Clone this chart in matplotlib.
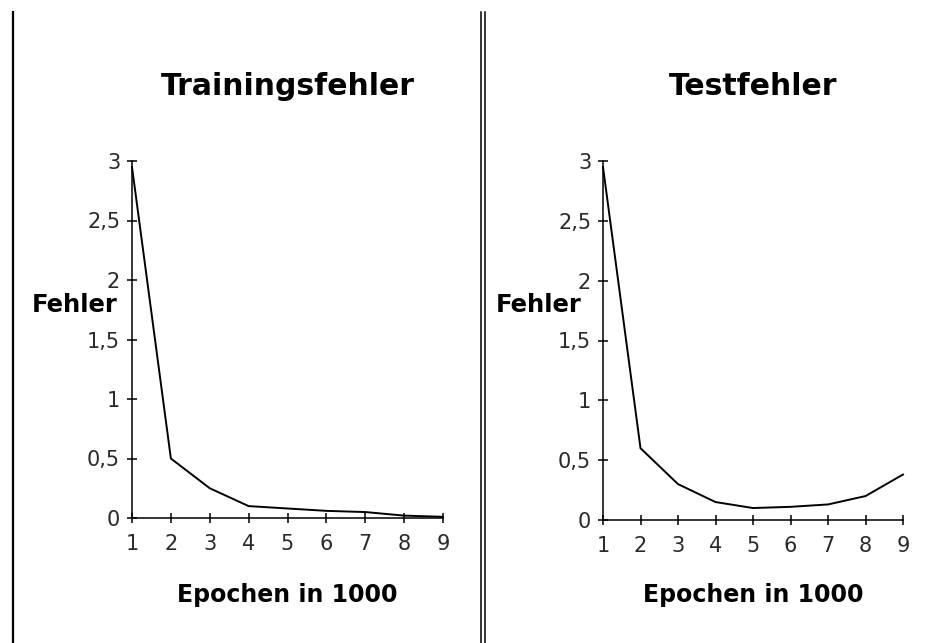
import numpy as np
import matplotlib
matplotlib.use('Agg')
import matplotlib.pyplot as plt
from matplotlib.lines import Line2D

# ============================================================
# Daten
# ============================================================
epochen = [1, 2, 3, 4, 5, 6, 7, 8, 9]
trainingsfehler = [2.95, 0.50, 0.25, 0.10, 0.08, 0.06, 0.05, 0.02, 0.01]
testfehler = [2.95, 0.60, 0.30, 0.15, 0.10, 0.11, 0.13, 0.20, 0.38]

y_ticks = [0, 0.5, 1, 1.5, 2, 2.5, 3]
y_ticklabels = ['0', '0,5', '1', '1,5', '2', '2,5', '3']
titles = ['Trainingsfehler', 'Testfehler']
x_label = 'Epochen in 1000'
y_label = 'Fehler'

W, H = 925, 643
fig = plt.figure(figsize=(W / 100, H / 100), dpi=100)
fig.patch.set_facecolor('white')

# Achsen-Positionen in Pixeln: (links, rechts, unten(y=0), oben(y=3))
boxes = [(132, 443, 518, 161), (603, 903, 520, 161)]
label_x = [75, 538.5]

for i, (series, box) in enumerate(zip([trainingsfehler, testfehler], boxes)):
    x0, x1, yb, yt = box
    ax = fig.add_axes([x0 / W, (H - yb) / H, (x1 - x0) / W, (yb - yt) / H])
    ax.plot(epochen, series, color='black', linewidth=1.4, clip_on=False,
            solid_joinstyle='miter')
    ax.set_xlim(1, 9)
    ax.set_ylim(0, 3)
    ax.set_xticks(epochen)
    ax.set_xticklabels([str(e) for e in epochen])
    ax.set_yticks(y_ticks)
    ax.set_yticklabels(y_ticklabels)
    for side in ['top', 'right']:
        ax.spines[side].set_visible(False)
    for side in ['left', 'bottom']:
        ax.spines[side].set_linewidth(1.1)
        ax.spines[side].set_color('black')
    ax.tick_params(axis='both', direction='inout', width=1.1, length=7,
                   labelsize=15, labelcolor='#2a2a2a')
    ax.tick_params(axis='y', pad=5)
    ax.tick_params(axis='x', pad=8)
    ax.patch.set_alpha(0)

    # Titel
    ax.text(0.5, (yb - 95) / (yb - yt), titles[i], transform=ax.transAxes,
            ha='center', va='baseline', fontsize=21.5, fontweight='bold')
    # x-Achsenbeschriftung
    ax.text(0.5, (yb - 602) / (yb - yt), x_label, transform=ax.transAxes,
            ha='center', va='baseline', fontsize=17, fontweight='bold')
    # y-Achsenbeschriftung (horizontal)
    ax.text((label_x[i] - x0) / (x1 - x0), (yb - 305) / (yb - yt), y_label,
            transform=ax.transAxes, ha='center', va='center',
            fontsize=17.5, fontweight='bold')

# Rahmenlinien
fig.add_artist(Line2D([12.5 / W, 12.5 / W], [0, 1 - 12 / H], color='black',
                      linewidth=1.6, transform=fig.transFigure))
for xp in [480.5, 484.5]:
    fig.add_artist(Line2D([xp / W, xp / W], [0, 1 - 12 / H], color='black',
                          linewidth=1.1, transform=fig.transFigure))

plt.savefig('out.png', dpi=100)
plt.close()
